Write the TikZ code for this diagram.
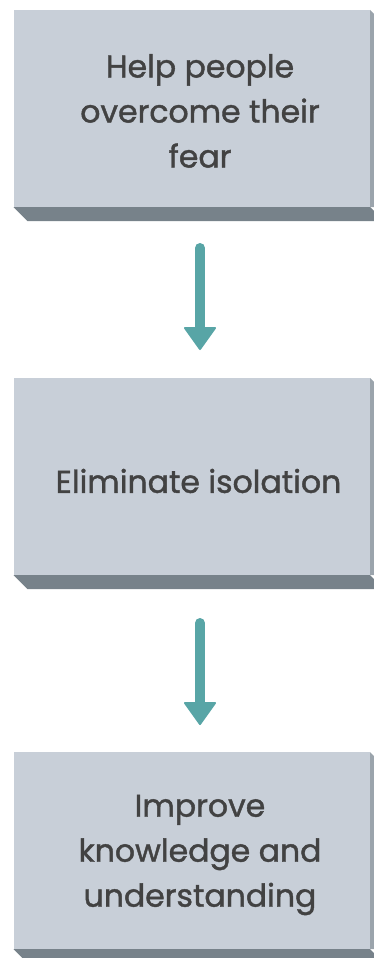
\documentclass[tikz,border=0pt]{standalone}
\usepackage{fontspec}
\setmainfont[FakeBold=1.3]{Poppins}
\usetikzlibrary{calc}
\definecolor{face}{HTML}{C8CFD8}
\definecolor{bottomc}{HTML}{77828A}
\definecolor{sidec}{HTML}{9BA4AC}
\definecolor{arrowc}{HTML}{58A5A6}
\definecolor{txt}{HTML}{424242}
\begin{document}
\begin{tikzpicture}[x=1pt,y=-1pt,
  boxface/.style={fill=face, draw=none, minimum width=356.5pt, minimum height=197pt, anchor=north west, inner sep=0pt, outer sep=0pt},
  lbl/.style={text=txt, font=\fontsize{31.5}{45}\selectfont, align=center, inner sep=0pt},
  shaft/.style={draw=arrowc, line width=10pt, line cap=round},
  headtip/.style={fill=arrowc, draw=arrowc, line width=2pt, line join=round}]
\useasboundingbox (0,0) rectangle (374,958);
\fill[white] (0,0) rectangle (374,958);
% boxes
\foreach \n/\t in {b1/10, b2/378, b3/752}{
  \node[boxface] (\n) at (13.5,\t) {};
  \fill[sidec] (\n.north east) -- ++(4,4) -- ($(\n.south east)+(4,0)$) -- (\n.south east) -- cycle;
  \fill[bottomc] (\n.south west) -- (\n.south east) -- ++(4,4) -- ++(0,10) -- ($(\n.south west)+(14,14)$) -- cycle;
}
% labels
\node[lbl] (t1) at (200,111) {Help people\\overcome their\\fear};
\node[lbl] (t2) at (198.5,481) {Eliminate isolation};
\node[lbl] (t3) at (200,855) {Improve\\knowledge and\\understanding};
% arrows
\coordinate (a1s) at (200,248);
\coordinate (a1e) at (200,329);
\coordinate (a2s) at (200,623);
\coordinate (a2e) at (200,704);
\draw[shaft] (a1s) -- (a1e);
\draw[headtip] ($(a1e)+(-15,-1)$) -- ($(a1e)+(15,-1)$) -- ($(a1e)+(0,20)$) -- cycle;
\draw[shaft] (a2s) -- (a2e);
\draw[headtip] ($(a2e)+(-15,-1)$) -- ($(a2e)+(15,-1)$) -- ($(a2e)+(0,20)$) -- cycle;
\end{tikzpicture}
\end{document}
